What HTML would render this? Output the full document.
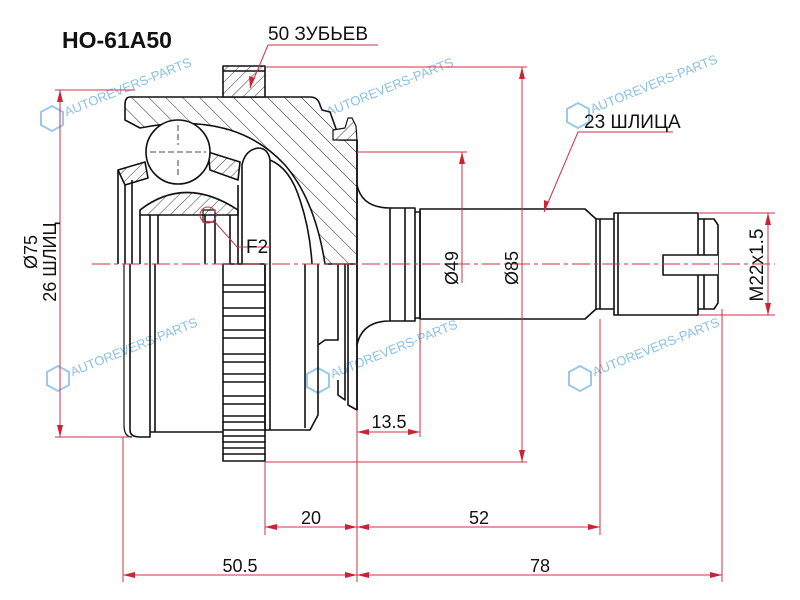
<!DOCTYPE html>
<html><head><meta charset="utf-8"><style>
html,body{margin:0;padding:0;background:#fff;}
svg{display:block;}
text{font-family:"Liberation Sans",sans-serif;}
</style></head><body>
<svg width="800" height="600" viewBox="0 0 800 600" xmlns="http://www.w3.org/2000/svg">
<defs>
<pattern id="h" patternUnits="userSpaceOnUse" width="12" height="12" patternTransform="rotate(-45)">
<rect width="12" height="12" fill="#fff"/><line x1="0" y1="0" x2="0" y2="12" stroke="#222" stroke-width="1"/>
</pattern>
<pattern id="h2" patternUnits="userSpaceOnUse" width="8" height="8" patternTransform="rotate(45)">
<rect width="8" height="8" fill="#fff"/><line x1="0" y1="0" x2="0" y2="8" stroke="#222" stroke-width="0.9"/>
</pattern>
<g id="wm" fill="none" stroke="#9cc8ea" stroke-width="2">
<polygon points="0,-12 11,-6 11,7 0,13 -11,7 -11,-6"/>
<text x="14" y="4" fill="#8cc0e8" stroke="none" font-size="13" transform="rotate(-22)">AUTOREVERS-PARTS</text>
</g>
</defs>

<use href="#wm" x="52" y="118"/>
<use href="#wm" x="314" y="118"/>
<use href="#wm" x="578" y="115"/>
<use href="#wm" x="58" y="378"/>
<use href="#wm" x="318" y="380"/>
<use href="#wm" x="580" y="378"/>

<g stroke="#111" stroke-width="1.6" fill="none" stroke-linejoin="round">
<path d="M130,97 L310,97 Q318,97 320,105 L322,110 L330,112 L340,140 L357,140 L357,264 L325,264 Q315,200 285,165 Q262,140 230,130 Q190,118 140,128 L125,120 L125,105 Q125,97 130,97 Z" fill="url(#h)"/>
<rect x="223" y="66" width="42" height="31" fill="url(#h2)"/>
<line x1="223" y1="71" x2="265" y2="71"/>
<path d="M333,140 L333,130 L345,128 L348,118 L352,118 L356,126 L357,140 Z" fill="url(#h2)" stroke-width="1.2"/>
<path d="M118,170 L145,162 L148,178 L125,185 Z" fill="url(#h2)"/>
<path d="M208,152 L240,162 L238,180 L210,170 Z" fill="url(#h2)"/>
<circle cx="178" cy="152" r="32" fill="#fff"/>
<path d="M178,125 v20 M178,160 v18 M150,152 h56" stroke-width="0.8" stroke-dasharray="6,3"/>
<path d="M140,210 Q185,175 238,210 L238,215 L140,215 Z" fill="url(#h2)"/>
<path d="M140,215 L140,264 M150,215 L150,264 M158,215 L158,264 M205,215 L205,264 M215,215 L215,264 M230,215 L230,264 M238,185 L238,264"/>
<rect x="203" y="210" width="12" height="12" stroke-width="1.2"/>
<path d="M118,170 L118,264 M125,185 L125,264 M132,180 L132,264"/>
<path d="M242,264 L242,165 Q245,150 258,148 Q268,148 270,160 L270,264" fill="#fff"/>
<path d="M270,160 Q290,168 300,200 Q310,230 312,264"/>

<path d="M130,264 L130,430 Q130,437 140,437 L150,437 L150,264"/>
<path d="M124,264 L124,425 Q124,437 132,437" stroke-width="1.2"/>
<path d="M150,432 L223,432 M155,264 L155,432"/>
<rect x="223" y="264" width="42" height="197" fill="#fff"/>
<g stroke-width="1.4">
<path d="M223,285 h42 M223,292 h42 M223,308 h42 M223,316 h42 M223,330 h42 M223,338 h42 M223,354 h42 M223,362 h42 M223,374 h42 M223,382 h42 M223,396 h42 M223,404 h42 M223,416 h42 M223,422 h42 M223,430 h42 M223,436 h42 M223,442 h42 M223,448 h42 M223,454 h42"/>
</g>
<path d="M265,264 L265,430 L310,430 L318,415 L318,264 M270,264 L270,430 M305,264 L305,428"/>
<path d="M318,345 L325,340 L338,340 L338,264 M338,380 L338,395 L345,400 L345,264 M348,264 L348,405 L357,410 L357,264"/>

<path d="M357,140 L357,410"/>
<path d="M357,185 Q362,208 390,208 L390,321 Q362,321 357,345"/>
<path d="M390,208 L415,208 L415,321 L390,321 M405,208 L405,321 M415,212 L420,212 L420,318 L415,318"/>
<path d="M420,209 L585,209 L596,219 L596,309 L585,319 L420,319 Z"/>
<path d="M596,219 L614,219 M596,309 L614,309 M600,219 L600,309"/>
<path d="M614,213 L698,213 L698,315 L614,315 Z M618,213 L618,315"/>
<path d="M698,219 L714,219 L718,225 L718,303 L714,309 L698,309 M704,219 L704,309"/>
<path d="M718,255 L663,255 L663,275 L718,275" fill="#fff"/>
</g>

<g stroke="#cc3344" stroke-width="1" fill="none">
<line x1="92" y1="264" x2="775" y2="264" stroke-dasharray="18,4,4,4"/>
<line x1="55" y1="90" x2="135" y2="90"/><line x1="55" y1="437" x2="130" y2="437"/>
<line x1="60" y1="90" x2="60" y2="437"/>
<line x1="265" y1="67" x2="527" y2="67"/><line x1="265" y1="462" x2="527" y2="462"/>
<line x1="522" y1="67" x2="522" y2="462"/>
<line x1="357" y1="152" x2="467" y2="152"/>
<line x1="462" y1="152" x2="462" y2="283"/>
<line x1="698" y1="213" x2="775" y2="213"/><line x1="698" y1="315" x2="775" y2="315"/>
<line x1="768" y1="213" x2="768" y2="315"/>
<line x1="123" y1="437" x2="123" y2="582"/>
<line x1="265" y1="462" x2="265" y2="535"/>
<line x1="357" y1="410" x2="357" y2="582"/>
<line x1="420" y1="320" x2="420" y2="437"/>
<line x1="600" y1="319" x2="600" y2="535"/>
<line x1="722" y1="309" x2="722" y2="582"/>
<line x1="357" y1="432" x2="420" y2="432"/>
<line x1="265" y1="527" x2="600" y2="527"/>
<line x1="123" y1="575" x2="722" y2="575"/>
<path d="M268,45 L378,45 M268,45 L250,88"/>
<path d="M673,132 L578,132 L544,212"/>
<circle cx="208" cy="215" r="8"/>
<path d="M214,221 L237,247 L270,247"/>
</g>
<g fill="#cc2233">
<path d="M60,90 l-3,12 h6z M60,437 l-3,-12 h6z"/>
<path d="M522,67 l-3,12 h6z M522,462 l-3,-12 h6z"/>
<path d="M462,152 l-3,12 h6z"/>
<path d="M768,213 l-3,12 h6z M768,315 l-3,-12 h6z"/>
<path d="M357,432 l12,-3 v6z M420,432 l-12,-3 v6z"/>
<path d="M265,527 l12,-3 v6z M357,527 l-12,-3 v6z M357,527 l12,-3 v6z M600,527 l-12,-3 v6z"/>
<path d="M123,575 l12,-3 v6z M357,575 l-12,-3 v6z M357,575 l12,-3 v6z M722,575 l-12,-3 v6z"/>
<path d="M250,88 l-1,-12 l6,2z M544,212 l0,-12 l5,2z"/>
</g>

<g fill="#111">
<text x="62" y="48" font-size="23" font-weight="bold">HO-61A50</text>
<text x="268" y="40" font-size="19">50 ЗУБЬЕВ</text>
<text x="584" y="128" font-size="19">23 ШЛИЦА</text>
<text x="246" y="253" font-size="19">F2</text>
<text x="389" y="428" font-size="18" text-anchor="middle">13.5</text>
<text x="311" y="524" font-size="18" text-anchor="middle">20</text>
<text x="479" y="524" font-size="18" text-anchor="middle">52</text>
<text x="240" y="572" font-size="18" text-anchor="middle">50.5</text>
<text x="540" y="572" font-size="18" text-anchor="middle">78</text>
<text transform="translate(37,252) rotate(-90)" font-size="18" text-anchor="middle">Ø75</text>
<text transform="translate(56,262) rotate(-90)" font-size="18" text-anchor="middle">26 ШЛИЦ</text>
<text transform="translate(458,268) rotate(-90)" font-size="18" text-anchor="middle">Ø49</text>
<text transform="translate(518,268) rotate(-90)" font-size="18" text-anchor="middle">Ø85</text>
<text transform="translate(763,265) rotate(-90)" font-size="19" text-anchor="middle">M22x1.5</text>
</g>
</svg>
</body></html>
